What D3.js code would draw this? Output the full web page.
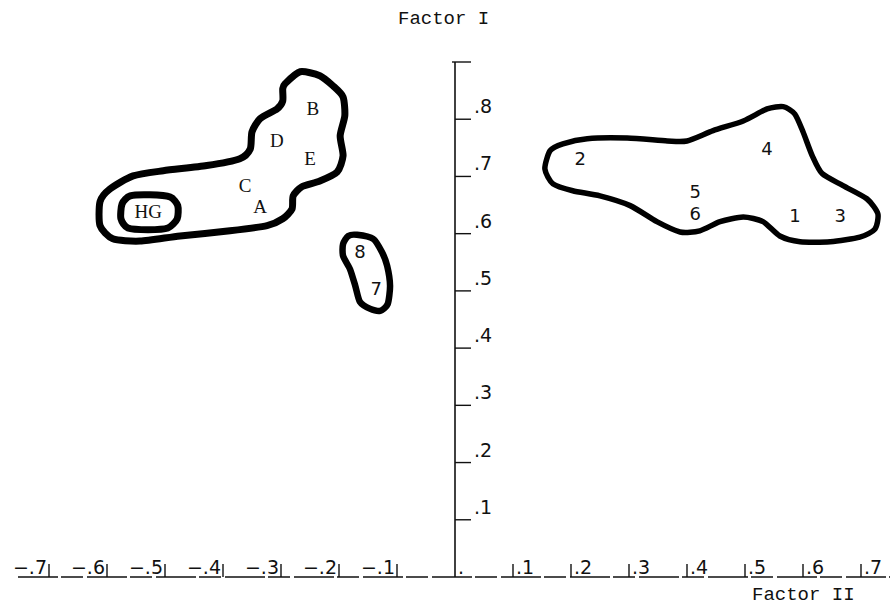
<!DOCTYPE html>
<html>
<head>
<meta charset="utf-8">
<script src="https://cdn.jsdelivr.net/npm/d3@7"></script>
<style>
  body { margin: 0; background: #fff; }
  text { fill: #111; }
  .axis-label { font-family: "Liberation Mono", monospace; font-size: 19px; }
  .tick-label { font-family: "DejaVu Sans", sans-serif; font-size: 19px; }
  .pt-num { font-family: "DejaVu Sans", sans-serif; font-size: 18px; }
  .pt-let { font-family: "Liberation Serif", serif; font-size: 19px; }
</style>
</head>
<body>
<svg id="chart" width="892" height="605"></svg>
<script>
// factor loadings (Factor II on x, Factor I on y)
var letterPts = [
  ['B', -0.245, 0.818], ['D', -0.307, 0.762], ['E', -0.250, 0.731],
  ['C', -0.362, 0.685], ['A', -0.336, 0.647], ['HG', -0.529, 0.638]
]
var numberPts = [
  ['8', -0.164, 0.568], ['7', -0.136, 0.504],
  ['2', 0.216, 0.731], ['4', 0.538, 0.748], ['5', 0.414, 0.673],
  ['6', 0.414, 0.635], ['1', 0.586, 0.631], ['3', 0.664, 0.631]
]

// hand drawn cluster outlines, in factor units
var leftBlob = [
  [-0.293, 0.862], [-0.267, 0.883], [-0.233, 0.876], [-0.210, 0.858], [-0.193, 0.839],
  [-0.190, 0.806], [-0.198, 0.771], [-0.193, 0.736], [-0.203, 0.708], [-0.233, 0.692],
  [-0.264, 0.682], [-0.279, 0.666], [-0.281, 0.643], [-0.297, 0.626], [-0.324, 0.614],
  [-0.388, 0.605], [-0.474, 0.596], [-0.543, 0.587], [-0.590, 0.591], [-0.612, 0.614],
  [-0.612, 0.656], [-0.595, 0.678], [-0.555, 0.701], [-0.503, 0.710], [-0.428, 0.719],
  [-0.371, 0.731], [-0.353, 0.748], [-0.350, 0.778], [-0.336, 0.801], [-0.307, 0.818],
  [-0.297, 0.832], [-0.297, 0.853]
]
var hgBlob = [
  [-0.574, 0.652], [-0.560, 0.666], [-0.526, 0.668], [-0.491, 0.664], [-0.478, 0.649],
  [-0.479, 0.626], [-0.495, 0.610], [-0.529, 0.607], [-0.564, 0.610], [-0.576, 0.626]
]
var smallBlob = [
  [-0.169, 0.598], [-0.141, 0.591], [-0.126, 0.568], [-0.117, 0.544], [-0.112, 0.509],
  [-0.116, 0.477], [-0.129, 0.465], [-0.147, 0.469], [-0.164, 0.481], [-0.172, 0.509],
  [-0.181, 0.538], [-0.193, 0.561], [-0.193, 0.582], [-0.184, 0.596]
]
var rightBlob = [
  [0.155, 0.713], [0.164, 0.745], [0.186, 0.757], [0.228, 0.766], [0.297, 0.767],
  [0.366, 0.762], [0.400, 0.762], [0.445, 0.780], [0.497, 0.797], [0.538, 0.818],
  [0.566, 0.822], [0.586, 0.809], [0.600, 0.778], [0.616, 0.736], [0.633, 0.705],
  [0.669, 0.684], [0.710, 0.661], [0.729, 0.635], [0.724, 0.608], [0.698, 0.594],
  [0.647, 0.586], [0.595, 0.586], [0.560, 0.596], [0.531, 0.621], [0.497, 0.629],
  [0.457, 0.621], [0.422, 0.605], [0.388, 0.603], [0.348, 0.621], [0.302, 0.649],
  [0.250, 0.666], [0.203, 0.675], [0.169, 0.687]
]

var xTicks = [-0.7, -0.6, -0.5, -0.4, -0.3, -0.2, -0.1, 0, 0.1, 0.2, 0.3, 0.4, 0.5, 0.6, 0.7]
var yTicks = [0.1, 0.2, 0.3, 0.4, 0.5, 0.6, 0.7, 0.8, 0.9]
var tickText = function (v) {
  if (v === 0) return '.'
  return (v < 0 ? '\u2212' : '') + '.' + Math.round(Math.abs(v) * 10)
}

const svg = d3.select('#chart')
const x = d3.scaleLinear().domain([0, 0.7]).range([455, 861])
const y = d3.scaleLinear().domain([0, 0.9]).range([577, 62])

// axes, typewriter style
var yAxis = svg.append('g').attr('transform', 'translate(' + x(0) + ',0)')
yAxis.append('line')
  .attr('y1', y(0.9)).attr('y2', y(0))
  .attr('stroke', '#111').attr('stroke-width', 1.6)
yTicks.forEach(v => {
  yAxis.append('line')
    .attr('x1', v === 0.9 ? -3 : 0).attr('x2', 16).attr('y1', y(v)).attr('y2', y(v))
    .attr('stroke', '#111').attr('stroke-width', 1.4)
  if (v < 0.9) {
    yAxis.append('text').attr('class', 'tick-label')
      .attr('x', 19).attr('y', y(v) - 6)
      .text(tickText(v))
  }
})

var xAxis = svg.append('g').attr('transform', 'translate(0,' + y(0) + ')')
xAxis.append('line')
  .attr('x1', 18).attr('x2', 890)
  .attr('stroke', '#111').attr('stroke-width', 1.6)
  .attr('stroke-dasharray', '40,3,22,4')
xTicks.forEach(v => {
  if (v !== 0) {
    xAxis.append('line')
      .attr('x1', x(v)).attr('x2', x(v)).attr('y1', 0).attr('y2', -13)
      .attr('stroke', '#111').attr('stroke-width', 1.4)
  }
  xAxis.append('text').attr('class', 'tick-label')
    .attr('x', v < 0 ? x(v) - 2 : x(v) + 3)
    .attr('y', -3)
    .attr('text-anchor', v < 0 ? 'end' : 'start')
    .text(tickText(v))
})

svg.append('text').attr('class', 'axis-label')
  .attr('x', 398).attr('y', 24).text('Factor I')
svg.append('text').attr('class', 'axis-label')
  .attr('x', 752).attr('y', 600).text('Factor II')

// cluster outlines
var outline = d3.line()
  .x(d => x(d[0]))
  .y(d => y(d[1]))
  .curve(d3.curveCardinalClosed.tension(0.3))

var blobs = [[leftBlob, 7], [hgBlob, 7], [smallBlob, 6.5], [rightBlob, 5.5]]
blobs.forEach(b => {
  svg.append('path')
    .attr('d', outline(b[0]))
    .attr('fill', 'none')
    .attr('stroke', '#000')
    .attr('stroke-width', b[1])
    .attr('stroke-linejoin', 'round')
})

letterPts.forEach(d => {
  svg.append('text').attr('class', 'pt-let')
    .attr('x', x(d[1])).attr('y', y(d[2]))
    .attr('text-anchor', 'middle').attr('dominant-baseline', 'central')
    .text(d[0])
})
numberPts.forEach(d => {
  svg.append('text').attr('class', 'pt-num')
    .attr('x', x(d[1])).attr('y', y(d[2]))
    .attr('text-anchor', 'middle').attr('dominant-baseline', 'central')
    .text(d[0])
})
</script>
</body>
</html>
